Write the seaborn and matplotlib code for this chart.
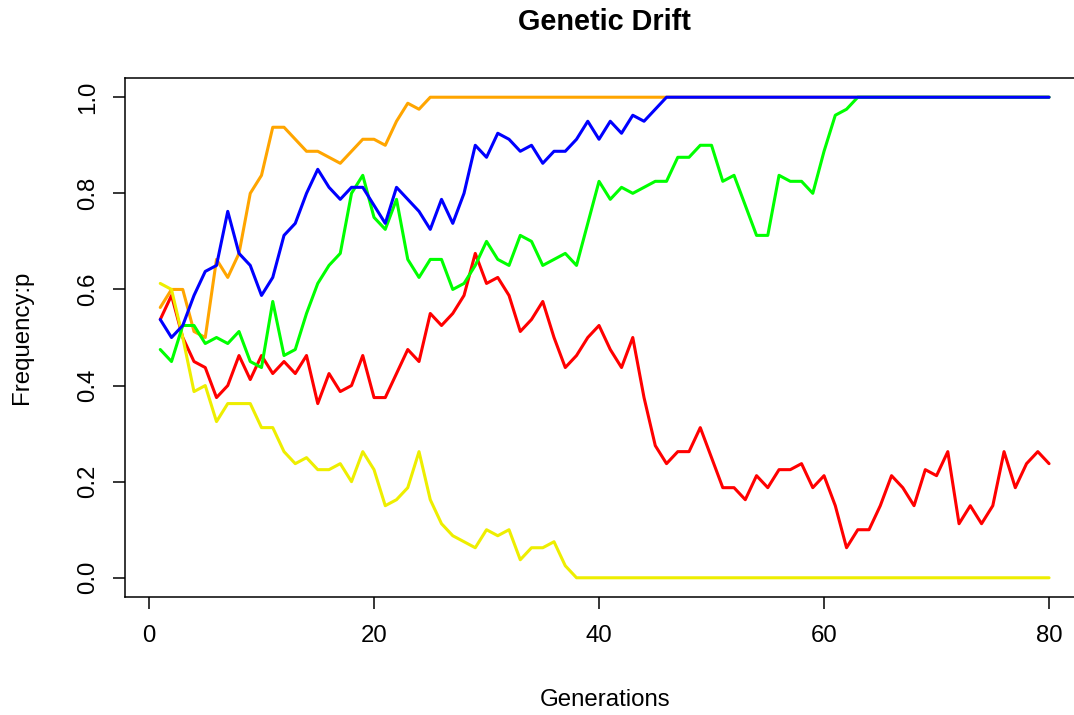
import numpy as np
import pandas as pd
import matplotlib
matplotlib.use("Agg")
import matplotlib.pyplot as plt
import seaborn as sns

# Allele frequency trajectories for five replicate populations (generations 1..80)
generations = list(range(1, 81))

freq_red = [
    0.5375, 0.5875, 0.5, 0.45, 0.4375, 0.375, 0.4, 0.4625, 0.4125, 0.4625,
    0.425, 0.45, 0.425, 0.4625, 0.3625, 0.425, 0.3875, 0.4, 0.4625, 0.375,
    0.375, 0.425, 0.475, 0.45, 0.55, 0.525, 0.55, 0.5875, 0.675, 0.6125,
    0.625, 0.5875, 0.5125, 0.5375, 0.575, 0.5, 0.4375, 0.4625, 0.5, 0.525,
    0.475, 0.4375, 0.5, 0.375, 0.275, 0.2375, 0.2625, 0.2625, 0.3125, 0.25,
    0.1875, 0.1875, 0.1625, 0.2125, 0.1875, 0.225, 0.225, 0.2375, 0.1875, 0.2125,
    0.15, 0.0625, 0.1, 0.1, 0.15, 0.2125, 0.1875, 0.15, 0.225, 0.2125,
    0.2625, 0.1125, 0.15, 0.1125, 0.15, 0.2625, 0.1875, 0.2375, 0.2625, 0.2375,
]

freq_orange = [
    0.5625, 0.6, 0.6, 0.5125, 0.5, 0.6625, 0.625, 0.675, 0.8, 0.8375,
    0.9375, 0.9375, 0.9125, 0.8875, 0.8875, 0.875, 0.8625, 0.8875, 0.9125, 0.9125,
    0.9, 0.95, 0.9875, 0.975, 1.0, 1.0, 1.0, 1.0, 1.0, 1.0,
    1.0, 1.0, 1.0, 1.0, 1.0, 1.0, 1.0, 1.0, 1.0, 1.0,
    1.0, 1.0, 1.0, 1.0, 1.0, 1.0, 1.0, 1.0, 1.0, 1.0,
    1.0, 1.0, 1.0, 1.0, 1.0, 1.0, 1.0, 1.0, 1.0, 1.0,
    1.0, 1.0, 1.0, 1.0, 1.0, 1.0, 1.0, 1.0, 1.0, 1.0,
    1.0, 1.0, 1.0, 1.0, 1.0, 1.0, 1.0, 1.0, 1.0, 1.0,
]

freq_yellow = [
    0.6125, 0.6, 0.5, 0.3875, 0.4, 0.325, 0.3625, 0.3625, 0.3625, 0.3125,
    0.3125, 0.2625, 0.2375, 0.25, 0.225, 0.225, 0.2375, 0.2, 0.2625, 0.225,
    0.15, 0.1625, 0.1875, 0.2625, 0.1625, 0.1125, 0.0875, 0.075, 0.0625, 0.1,
    0.0875, 0.1, 0.0375, 0.0625, 0.0625, 0.075, 0.025, 0.0, 0.0, 0.0,
    0.0, 0.0, 0.0, 0.0, 0.0, 0.0, 0.0, 0.0, 0.0, 0.0,
    0.0, 0.0, 0.0, 0.0, 0.0, 0.0, 0.0, 0.0, 0.0, 0.0,
    0.0, 0.0, 0.0, 0.0, 0.0, 0.0, 0.0, 0.0, 0.0, 0.0,
    0.0, 0.0, 0.0, 0.0, 0.0, 0.0, 0.0, 0.0, 0.0, 0.0,
]

freq_green = [
    0.475, 0.45, 0.525, 0.525, 0.4875, 0.5, 0.4875, 0.5125, 0.45, 0.4375,
    0.575, 0.4625, 0.475, 0.55, 0.6125, 0.65, 0.675, 0.8, 0.8375, 0.75,
    0.725, 0.7875, 0.6625, 0.625, 0.6625, 0.6625, 0.6, 0.6125, 0.65, 0.7,
    0.6625, 0.65, 0.7125, 0.7, 0.65, 0.6625, 0.675, 0.65, 0.7375, 0.825,
    0.7875, 0.8125, 0.8, 0.8125, 0.825, 0.825, 0.875, 0.875, 0.9, 0.9,
    0.825, 0.8375, 0.775, 0.7125, 0.7125, 0.8375, 0.825, 0.825, 0.8, 0.8875,
    0.9625, 0.975, 1.0, 1.0, 1.0, 1.0, 1.0, 1.0, 1.0, 1.0,
    1.0, 1.0, 1.0, 1.0, 1.0, 1.0, 1.0, 1.0, 1.0, 1.0,
]

freq_blue = [
    0.5375, 0.5, 0.525, 0.5875, 0.6375, 0.65, 0.7625, 0.675, 0.65, 0.5875,
    0.625, 0.7125, 0.7375, 0.8, 0.85, 0.8125, 0.7875, 0.8125, 0.8125, 0.775,
    0.7375, 0.8125, 0.7875, 0.7625, 0.725, 0.7875, 0.7375, 0.8, 0.9, 0.875,
    0.925, 0.9125, 0.8875, 0.9, 0.8625, 0.8875, 0.8875, 0.9125, 0.95, 0.9125,
    0.95, 0.925, 0.9625, 0.95, 0.975, 1.0, 1.0, 1.0, 1.0, 1.0,
    1.0, 1.0, 1.0, 1.0, 1.0, 1.0, 1.0, 1.0, 1.0, 1.0,
    1.0, 1.0, 1.0, 1.0, 1.0, 1.0, 1.0, 1.0, 1.0, 1.0,
    1.0, 1.0, 1.0, 1.0, 1.0, 1.0, 1.0, 1.0, 1.0, 1.0,
]

series_names = ["red", "orange", "yellow", "green", "blue"]
series_colors = ["#FF0000", "#FFA500", "#EEEE00", "#00FF00", "#0000FF"]
x_ticks = [0, 20, 40, 60, 80]
y_ticks = [0.0, 0.2, 0.4, 0.6, 0.8, 1.0]

frames = []
for name, vals in zip(series_names,
                      [freq_red, freq_orange, freq_yellow, freq_green, freq_blue]):
    frames.append(pd.DataFrame({"Generations": generations, "p": vals, "pop": name}))
df = pd.concat(frames, ignore_index=True)

sns.set_style("white")
plt.rcParams["font.family"] = ["Liberation Sans", "DejaVu Sans"]
plt.rcParams["text.color"] = "black"
plt.rcParams["axes.labelcolor"] = "black"

W, H = 1074, 715
fig = plt.figure(figsize=(W / 100, H / 100), dpi=100)

# plot region in pixels (the right part runs past the canvas edge)
left_px, right_px, top_px, bottom_px = 124.7, 1084.6, 78, 597
ax = fig.add_axes([left_px / W, 1 - bottom_px / H,
                   (right_px - left_px) / W, (bottom_px - top_px) / H])

sns.lineplot(data=df, x="Generations", y="p", hue="pop",
             hue_order=series_names, palette=series_colors,
             linewidth=2.2, legend=False, ax=ax, estimator=None,
             sort=False)

ax.set_xlim(1 - 0.04 * 79, 80 + 0.04 * 79)
ax.set_ylim(-0.04, 1.04)
ax.set_xticks(x_ticks)
ax.set_xticklabels([str(t) for t in x_ticks])
ax.set_yticks(y_ticks)
ax.set_yticklabels([f"{t:.1f}" for t in y_ticks], rotation=90, va="center")
ax.set_xlabel("")
ax.set_ylabel("")

for sp in ax.spines.values():
    sp.set_color("black")
    sp.set_linewidth(1.1)

ax.tick_params(axis="both", direction="out", length=8.5, width=1.1,
               color="black", labelsize=17.3, labelcolor="black")
ax.tick_params(axis="x", pad=12)
ax.tick_params(axis="y", pad=10)
ax.tick_params(bottom=True, left=True)

cx = (left_px + right_px) / 2 / W
fig.text(cx, 1 - 22 / H, "Genetic Drift", ha="center", va="center",
         fontsize=20.8, fontweight="bold", color="black")
fig.text(cx, 1 - 700 / H, "Generations", ha="center", va="center",
         fontsize=17.3, color="black")
fig.text(22 / W, 1 - ((top_px + bottom_px) / 2) / H, "Frequency:p",
         ha="center", va="center", rotation=90, fontsize=17.3, color="black")

fig.savefig("out.png", dpi=100, facecolor="white")
